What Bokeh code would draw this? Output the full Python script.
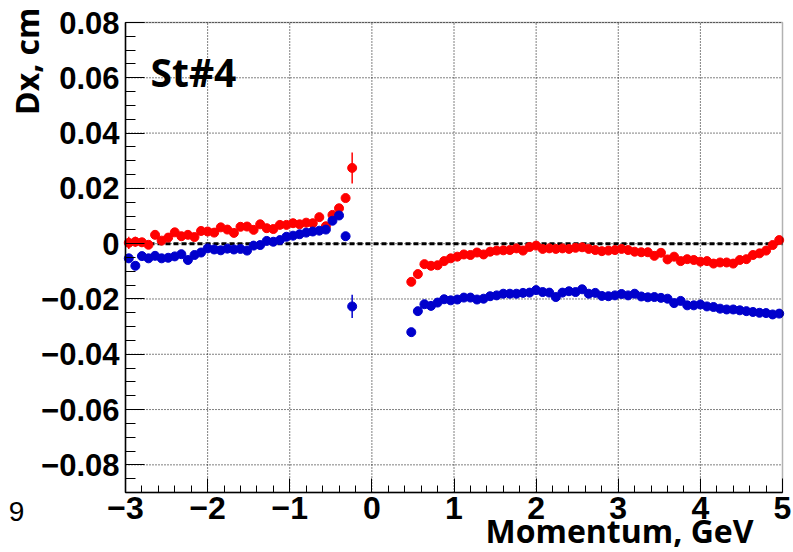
import math
from bokeh.plotting import figure
from bokeh.models import FixedTicker, Label, ColumnDataSource, Range1d, BoxAnnotation
from bokeh.embed import file_html
from bokeh.resources import INLINE

# ---------------- data ----------------
momentum = [-2.96, -2.88, -2.80, -2.72, -2.64, -2.56, -2.48, -2.40, -2.32, -2.24,
            -2.16, -2.08, -2.00, -1.92, -1.84, -1.76, -1.68, -1.60, -1.52, -1.44,
            -1.36, -1.28, -1.20, -1.12, -1.04, -0.96, -0.88, -0.80, -0.72, -0.64,
            -0.56, -0.48, -0.40, -0.32, -0.24,
            0.48, 0.56, 0.64, 0.72, 0.80, 0.88, 0.96, 1.04, 1.12, 1.20,
            1.28, 1.36, 1.44, 1.52, 1.60, 1.68, 1.76, 1.84, 1.92, 2.00,
            2.08, 2.16, 2.24, 2.32, 2.40, 2.48, 2.56, 2.64, 2.72, 2.80,
            2.88, 2.96, 3.04, 3.12, 3.20, 3.28, 3.36, 3.44, 3.52, 3.60,
            3.68, 3.76, 3.84, 3.92, 4.00, 4.08, 4.16, 4.24, 4.32, 4.40,
            4.48, 4.56, 4.64, 4.72, 4.80, 4.88, 4.96]

dx_red = [0.0003, 0.0007, 0.0005, -0.0004, 0.0032, 0.0011, 0.0022, 0.0041, 0.0027, 0.0032,
          0.0024, 0.0046, 0.0044, 0.0040, 0.0059, 0.0051, 0.0039, 0.0061, 0.0062, 0.0050,
          0.0070, 0.0056, 0.0053, 0.0068, 0.0068, 0.0074, 0.0070, 0.0076, 0.0074, 0.0096,
          0.0063, 0.0104, 0.0128, 0.0165, 0.0274,
          -0.0138, -0.0110, -0.0074, -0.0080, -0.0078, -0.0063, -0.0053, -0.0047, -0.0039, -0.0041,
          -0.0032, -0.0039, -0.0029, -0.0025, -0.0024, -0.0023, -0.0017, -0.0025, -0.0012, -0.0007,
          -0.0019, -0.0017, -0.0019, -0.0017, -0.0019, -0.0015, -0.0013, -0.0019, -0.0023, -0.0027,
          -0.0025, -0.0023, -0.0019, -0.0023, -0.0029, -0.0031, -0.0031, -0.0044, -0.0033, -0.0057,
          -0.0047, -0.0063, -0.0056, -0.0059, -0.0065, -0.0063, -0.0072, -0.0068, -0.0068, -0.0072,
          -0.0059, -0.0056, -0.0041, -0.0035, -0.0025, -0.0005, 0.0013]

dx_blue = [-0.0053, -0.0080, -0.0045, -0.0053, -0.0044, -0.0053, -0.0051, -0.0046, -0.0038, -0.0059,
           -0.0041, -0.0032, -0.0017, -0.0021, -0.0024, -0.0018, -0.0021, -0.0019, -0.0025, -0.0007,
           -0.0005, 0.0010, 0.0007, 0.0013, 0.0025, 0.0029, 0.0034, 0.0040, 0.0044, 0.0047,
           0.0051, 0.0083, 0.0102, 0.0027, -0.0227,
           -0.0320, -0.0244, -0.0219, -0.0225, -0.0213, -0.0201, -0.0205, -0.0202, -0.0195, -0.0195,
           -0.0202, -0.0199, -0.0190, -0.0187, -0.0181, -0.0181, -0.0181, -0.0178, -0.0177, -0.0168,
           -0.0175, -0.0177, -0.0193, -0.0177, -0.0172, -0.0175, -0.0165, -0.0181, -0.0178, -0.0189,
           -0.0190, -0.0187, -0.0182, -0.0187, -0.0181, -0.0191, -0.0194, -0.0193, -0.0196, -0.0199,
           -0.0215, -0.0207, -0.0223, -0.0223, -0.0220, -0.0227, -0.0229, -0.0235, -0.0238, -0.0238,
           -0.0241, -0.0244, -0.0247, -0.0250, -0.0251, -0.0256, -0.0253]

err_red = [0.0022, 0.0018, 0.0015, 0.0013, 0.0010, 0.0009, 0.0009, 0.0008, 0.0008, 0.0008,
           0.0008, 0.0008, 0.0008, 0.0008, 0.0008, 0.0008, 0.0008, 0.0008, 0.0008, 0.0008,
           0.0008, 0.0008, 0.0008, 0.0008, 0.0008, 0.0008, 0.0008, 0.0008, 0.0009, 0.0009,
           0.0010, 0.0010, 0.0011, 0.0013, 0.0056,
           0.0012, 0.0010, 0.0008, 0.0008, 0.0007, 0.0007, 0.0007, 0.0007, 0.0007, 0.0007,
           0.0007, 0.0007, 0.0007, 0.0007, 0.0007, 0.0007, 0.0007, 0.0007, 0.0007, 0.0007,
           0.0007, 0.0007, 0.0007, 0.0007, 0.0007, 0.0007, 0.0007, 0.0007, 0.0007, 0.0007,
           0.0007, 0.0007, 0.0007, 0.0007, 0.0007, 0.0007, 0.0007, 0.0007, 0.0007, 0.0007,
           0.0007, 0.0007, 0.0007, 0.0007, 0.0007, 0.0007, 0.0007, 0.0007, 0.0007, 0.0007,
           0.0007, 0.0007, 0.0007, 0.0007, 0.0007, 0.0008, 0.0009]

err_blue = [0.0016, 0.0013, 0.0010, 0.0009, 0.0008, 0.0008, 0.0008, 0.0008, 0.0008, 0.0008,
            0.0008, 0.0008, 0.0008, 0.0008, 0.0008, 0.0008, 0.0008, 0.0008, 0.0008, 0.0008,
            0.0008, 0.0008, 0.0008, 0.0008, 0.0008, 0.0008, 0.0008, 0.0008, 0.0009, 0.0009,
            0.0010, 0.0010, 0.0011, 0.0013, 0.0042,
            0.0012, 0.0010, 0.0008, 0.0008, 0.0007, 0.0007, 0.0007, 0.0007, 0.0007, 0.0007,
            0.0007, 0.0007, 0.0007, 0.0007, 0.0007, 0.0007, 0.0007, 0.0007, 0.0007, 0.0007,
            0.0007, 0.0007, 0.0007, 0.0007, 0.0007, 0.0007, 0.0007, 0.0007, 0.0007, 0.0007,
            0.0007, 0.0007, 0.0007, 0.0007, 0.0007, 0.0007, 0.0007, 0.0007, 0.0007, 0.0007,
            0.0007, 0.0007, 0.0007, 0.0007, 0.0007, 0.0007, 0.0007, 0.0007, 0.0007, 0.0007,
            0.0007, 0.0007, 0.0007, 0.0007, 0.0007, 0.0008, 0.0009]

x_ticks = [-3, -2, -1, 0, 1, 2, 3, 4, 5]
x_tick_labels = ["\u22123", "\u22122", "\u22121", "0", "1", "2", "3", "4", "5"]
y_ticks = [-0.08, -0.06, -0.04, -0.02, 0, 0.02, 0.04, 0.06, 0.08]
y_tick_labels = ["\u22120.08", "\u22120.06", "\u22120.04", "\u22120.02", "0",
                 "0.02", "0.04", "0.06", "0.08"]
x_lim = (-3, 5)
y_lim = (-0.09, 0.08)

x_title = "Momentum, GeV"
y_title = "Dx, cm"
station = "St#4"
stray_text = "9"

RED = "#ff0000"
BLUE = "#0000cc"

# ---------------- layout geometry (pixels) ----------------
W, H = 793, 552
F_LEFT, F_RIGHT, F_TOP, F_BOTTOM = 125, 782, 22, 492
xs = (F_RIGHT - F_LEFT) / (x_lim[1] - x_lim[0])
ys = (F_BOTTOM - F_TOP) / (y_lim[1] - y_lim[0])
x_range = Range1d(x_lim[0] - F_LEFT / xs, x_lim[1] + (W - F_RIGHT) / xs)
y_range = Range1d(y_lim[0] - (H - F_BOTTOM) / ys, y_lim[1] + F_TOP / ys)

p = figure(width=W, height=H, x_range=x_range, y_range=y_range,
           output_backend="svg", toolbar_location=None,
           min_border=0, min_border_left=0, min_border_right=0,
           min_border_top=0, min_border_bottom=0)
p.background_fill_color = "white"
p.border_fill_color = "white"
p.outline_line_color = None
p.xgrid.visible = False
p.ygrid.visible = False

x_minor = [round(x_lim[0] + 0.2 * i, 2) for i in range(41)]
y_minor = [round(y_lim[0] + 0.005 * i, 3) for i in range(35)]

p.xaxis.ticker = FixedTicker(ticks=x_ticks, minor_ticks=x_minor)
p.yaxis.ticker = FixedTicker(ticks=y_ticks, minor_ticks=y_minor)
p.xaxis.major_label_overrides = dict(zip(x_ticks, x_tick_labels))
p.yaxis.major_label_overrides = dict(zip(y_ticks, y_tick_labels))
p.xaxis.fixed_location = y_lim[0]
p.yaxis.fixed_location = x_lim[0]
p.xaxis.bounds = x_lim
p.yaxis.bounds = y_lim

for ax in (p.xaxis, p.yaxis):
    ax.axis_line_color = "black"
    ax.axis_line_width = 1.5
    ax.major_tick_line_color = "black"
    ax.minor_tick_line_color = "black"
    ax.major_tick_out = 0
    ax.minor_tick_out = 0
    ax.major_label_text_color = "black"
    ax.major_label_text_font_style = "bold"

p.xaxis.major_tick_in = 14
p.xaxis.minor_tick_in = 7
p.yaxis.major_tick_in = 19
p.yaxis.minor_tick_in = 10

p.xaxis.major_label_text_font = "Liberation Sans"
p.xaxis.major_label_text_font_size = "32px"
p.xaxis.major_label_standoff = 4
p.yaxis.major_label_text_font = "Liberation Sans"
p.yaxis.major_label_text_font_size = "31px"
p.yaxis.major_label_standoff = 6

# grid (dotted) at the major ticks, inside the frame only
vx = x_ticks[1:-1]
p.segment(x0=vx, y0=[y_lim[0]] * len(vx), x1=vx, y1=[y_lim[1]] * len(vx),
          line_color="black", line_width=1, line_dash="1 2")
p.segment(x0=[x_lim[0]] * len(y_ticks), y0=y_ticks, x1=[x_lim[1]] * len(y_ticks), y1=y_ticks,
          line_color="black", line_width=1, line_dash="1 2")

# zero reference line
p.segment(x0=[x_lim[0]], y0=[0], x1=[x_lim[1]], y1=[0],
          line_color="black", line_width=3, line_dash="5 3")

src = ColumnDataSource(dict(
    x=momentum,
    yr=dx_red, yr0=[v - e for v, e in zip(dx_red, err_red)], yr1=[v + e for v, e in zip(dx_red, err_red)],
    yb=dx_blue, yb0=[v - e for v, e in zip(dx_blue, err_blue)], yb1=[v + e for v, e in zip(dx_blue, err_blue)],
))

p.segment(x0="x", y0="yr0", x1="x", y1="yr1", source=src, line_color=RED, line_width=1.5)
p.scatter(x="x", y="yr", source=src, size=9, marker="circle", fill_color=RED, line_color=RED)
p.segment(x0="x", y0="yb0", x1="x", y1="yb1", source=src, line_color=BLUE, line_width=1.5)
p.scatter(x="x", y="yb", source=src, size=9, marker="circle", fill_color=BLUE, line_color=BLUE)

# frame box
p.add_layout(BoxAnnotation(left=x_lim[0], right=x_lim[1], bottom=y_lim[0], top=y_lim[1],
                           fill_alpha=0, line_color="black", line_width=1.5))

# ---------------- texts (screen units = canvas pixels, y up) ----------------
p.add_layout(Label(x=150, y=H - 88 + 17, x_units="screen", y_units="screen", text=station,
                   text_font="Open Sans", text_font_style="bold", text_font_size="39px",
                   text_color="black", text_baseline="alphabetic", text_align="left"))
p.add_layout(Label(x=753, y=H - 542 + 12, x_units="screen", y_units="screen", text=x_title,
                   text_font="Open Sans", text_font_style="bold", text_font_size="32px",
                   text_color="black", text_baseline="alphabetic", text_align="right"))
p.add_layout(Label(x=26, y=H - 7, x_units="screen", y_units="screen", text=y_title,
                   angle=math.pi / 2,
                   text_font="Open Sans", text_font_style="bold", text_font_size="32px",
                   text_color="black", text_baseline="alphabetic", text_align="right"))
p.add_layout(Label(x=16, y=H - 521 + 10, x_units="screen", y_units="screen", text=stray_text,
                   text_font="Liberation Sans", text_font_size="28px",
                   text_color="black", text_baseline="alphabetic", text_align="center"))

open("out.html", "w").write(file_html(p, INLINE))
